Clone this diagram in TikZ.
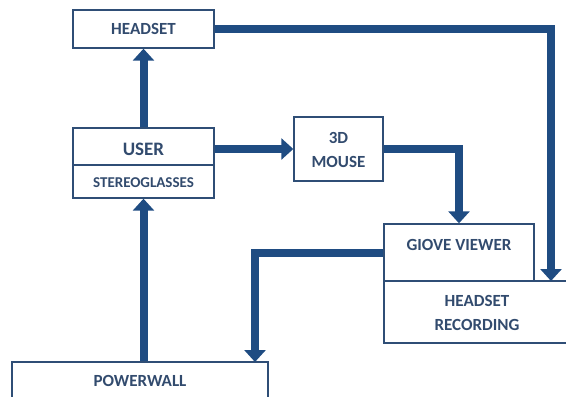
\documentclass[tikz,border=0pt]{standalone}
\usepackage{fontspec}
\setmainfont{Carlito}
\usetikzlibrary{arrows.meta}
\definecolor{linec}{RGB}{31,76,130}
\definecolor{boxc}{RGB}{47,78,118}
\definecolor{txtc}{RGB}{50,75,110}
\tikzset{
  box/.style={draw=boxc, line width=1.4pt, fill=white, rectangle, inner sep=0pt,
    font=\bfseries\fontsize{17}{19}\selectfont, text=txtc, align=center},
  conn/.style={draw=linec, line width=8pt, -{Triangle[width=21pt,length=12pt]}},
}
\begin{document}
\begin{tikzpicture}[x=1pt,y=-1pt]
\useasboundingbox (0,0) rectangle (566,397);
\begin{scope}
\clip (0,0) rectangle (566,397);
\node[box, minimum width=141pt, minimum height=38pt] (hs) at (143.5,29) {HEADSET};
\node[box, minimum width=141pt, minimum height=37pt] (user) at (143.5,146.5) {};
\node[box, minimum width=141pt, minimum height=33pt] (st) at (143.5,181.5) {};
\node[font=\bfseries\fontsize{19}{21}\selectfont, text=txtc, inner sep=0pt] (usert) at (143.5,149) {USER};
\node[font=\bfseries\fontsize{15}{17}\selectfont, text=txtc, inner sep=0pt] (stt) at (143.5,182.5) {STEREOGLASSES};
\node[box, minimum width=89pt, minimum height=64pt] (mouse) at (338.5,149) {};
\node[box, minimum width=150pt, minimum height=57pt] (gv) at (459,252.5) {};
\node[box, minimum width=186pt, minimum height=62pt] (hr) at (477,312) {};
\node[box, minimum width=256pt, minimum height=60pt] (pw) at (140,392) {};
\node[font=\bfseries\fontsize{17}{19}\selectfont, text=txtc, inner sep=0pt] (mt1) at (338.5,137.5) {3D};
\node[font=\bfseries\fontsize{17}{19}\selectfont, text=txtc, inner sep=0pt] (mt2) at (338.5,161.5) {MOUSE};
\node[font=\bfseries\fontsize{17}{19}\selectfont, text=txtc, inner sep=0pt] (gvt) at (459,245) {GIOVE VIEWER};
\node[font=\bfseries\fontsize{17}{19}\selectfont, text=txtc, inner sep=0pt] (hrt1) at (477,301) {HEADSET};
\node[font=\bfseries\fontsize{17}{19}\selectfont, text=txtc, inner sep=0pt] (hrt2) at (477,325) {RECORDING};
\node[font=\bfseries\fontsize{17}{19}\selectfont, text=txtc, inner sep=0pt] (pwt) at (140,380.5) {POWERWALL};
\coordinate (hrin) at (551,281);
\coordinate (pwin) at (255,362);
\draw[conn] (user.north) -- (hs.south);
\draw[conn] (pw.north -| st.south) -- (st.south);
\draw[conn] (user.east |- mouse.west) -- (mouse.west);
\draw[conn] (mouse.east) -| (gv.north);
\draw[conn] (hs.east) -| (hrin);
\draw[conn] (gv.west) -| (pwin);
\end{scope}
\end{tikzpicture}
\end{document}
